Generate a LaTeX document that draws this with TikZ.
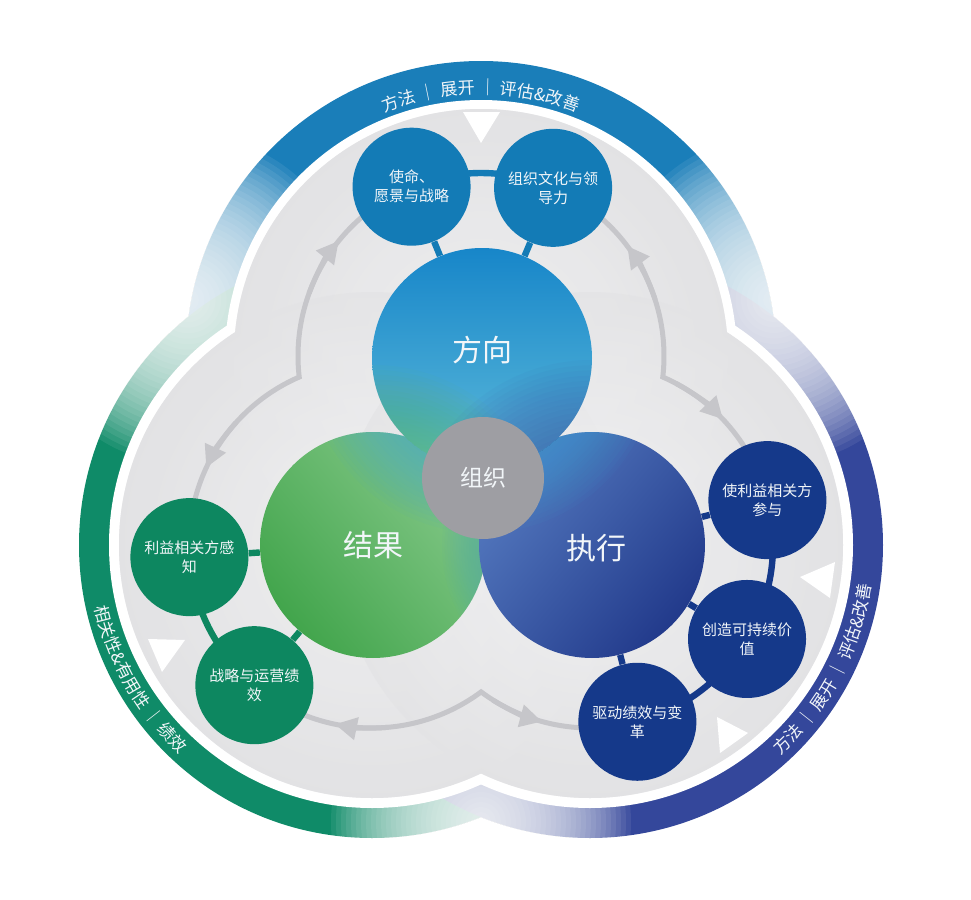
\documentclass[tikz,border=0pt]{standalone}
\usepackage{fontspec}
\setmainfont{Noto Sans CJK SC}
\usetikzlibrary{calc,decorations.text,arrows.meta}

\definecolor{bandT}{HTML}{1A7EB9}
\definecolor{bandL}{HTML}{0F8B68}
\definecolor{bandR}{HTML}{34479B}
\definecolor{smallT}{HTML}{137BB6}
\definecolor{smallL}{HTML}{0D8760}
\definecolor{smallR}{HTML}{15398A}
\definecolor{dirTop}{HTML}{1786C9}
\definecolor{dirBot}{HTML}{5DBADA}
\definecolor{resDark}{HTML}{42A54C}
\definecolor{resLight}{HTML}{86C98A}
\definecolor{exeDark}{HTML}{223A8B}
\definecolor{exeLight}{HTML}{5479BF}
\definecolor{tintG}{HTML}{5DB865}
\definecolor{tintN}{HTML}{3C55A6}
\definecolor{tintB}{HTML}{3FA6D8}
\definecolor{tintTeal}{HTML}{4FA9B0}
\definecolor{orgC}{HTML}{9E9EA3}
\definecolor{arrowC}{HTML}{C6C6CA}
\definecolor{txtC}{HTML}{F2F6F9}
\definecolor{lobeA}{HTML}{F5F5F6}
\definecolor{lobeB}{HTML}{E1E1E3}
\definecolor{lobeC}{HTML}{C4C4C7}
\definecolor{lobeD}{HTML}{97979C}

\pgfdeclareradialshading{lobeshade}{\pgfpointorigin}{color(0bp)=(lobeA); color(28bp)=(lobeB); color(42bp)=(lobeC); color(50bp)=(lobeD)}

\newcommand\ringfont{\fontsize{8.5}{10}\selectfont}
% soft white glow made of stacked translucent discs
\newcommand\glowat[2]{%
  \foreach \gr in {1,...,30}{\fill[white, opacity=0.075] (#1) circle[radius={\gr/30*#2}];}}
% soft colour tint: discs from radius #3 to #4 round point #2
\newcommand\tintat[4]{%
  \foreach \gr in {0,...,14}{\fill[#1, opacity=0.05] (#2) circle[radius={#3+\gr/14*(#4-#3)}];}}

\begin{document}
\begin{tikzpicture}[x=0.5pt,y=-0.5pt,
  grayline/.style={draw=arrowC, line width=2.5pt},
  grayhead/.style={draw=arrowC, line width=2.5pt, -{Triangle[length=11pt,width=11pt]}},
  linkT/.style={draw=smallT, line width=3.2pt},
  linkL/.style={draw=smallL, line width=3.2pt},
  linkR/.style={draw=smallR, line width=3.2pt},
  smallbox/.style={circle, minimum size=59pt, inner sep=0pt, text=txtC, align=center, font=\fontsize{7.5}{9.5}\selectfont},
  bigbox/.style={circle, inner sep=0pt},
  bigtext/.style={text=txtC, font=\fontsize{15}{18}\selectfont, inner sep=0pt},
  tri/.style={fill=white}
]
\useasboundingbox (0,0) rectangle (971,900);
\fill[white] (0,0) rectangle (971,900);

\coordinate (T) at (481,356);
\coordinate (L) at (372,545);
\coordinate (R) at (590,545);

% coloured bands
\fill[bandT] (T) circle[radius=295];
\fill[bandL] (L) circle[radius=293];
\fill[bandR] (R) circle[radius=293];
\coordinate (g1) at (188,300);
\coordinate (g2) at (774,300);
\coordinate (g3) at (481,822);
\glowat{g1}{165}
\glowat{g2}{165}
\glowat{g3}{150}

% white gap and grey lobes
\fill[white] (T) circle[radius=256] (L) circle[radius=263] (R) circle[radius=263];
\fill[lobeB] (T) circle[radius=247] (L) circle[radius=253] (R) circle[radius=253];
\shade[shading=lobeshade, opacity=0.7] (T) circle[radius=247];
\shade[shading=lobeshade, opacity=0.7] (L) circle[radius=253];
\shade[shading=lobeshade, opacity=0.7] (R) circle[radius=253];

% grey cycle arrows
\draw[grayline] ($(T)+(247.7:183)$) arc[start angle=247.7,end angle=173.4,radius=183] arc[start angle=246.5,end angle=176.2,radius=183];
\draw[grayline] ($(T)+(293.2:183)$) arc[start angle=293.2,end angle=366.6,radius=183] arc[start angle=293.5,end angle=345.8,radius=183];
\draw[grayline] ($(L)+(130:183)$) arc[start angle=130,end angle=53.4,radius=183] arc[start angle=126.6,end angle=75,radius=183];
\draw[grayhead] ($(T)+(200:183)$) arc[start angle=200,end angle=219,radius=183];
\draw[grayhead] ($(L)+(222:183)$) arc[start angle=222,end angle=205,radius=183];
\draw[grayhead] ($(T)+(342:183)$) arc[start angle=342,end angle=323,radius=183];
\draw[grayhead] ($(R)+(298:183)$) arc[start angle=298,end angle=316.6,radius=183];
\draw[grayhead] ($(L)+(85:183)$) arc[start angle=85,end angle=101.7,radius=183];
\draw[grayhead] ($(R)+(122:183)$) arc[start angle=122,end angle=105.2,radius=183];

% white triangles
\fill[tri] (463,112) -- (500,112) -- (481,143) -- cycle;
\fill[tri] (148,639) -- (185,640) -- (162,672) -- cycle;
\fill[tri] (800,577) -- (835,562) -- (830,598) -- cycle;
\fill[tri] (717,717) -- (748,733) -- (720,753) -- cycle;

% small circle centres
\coordinate (c1) at ($(T)+(247.7:183)$);
\coordinate (c2) at ($(T)+(293.2:183)$);
\coordinate (c3) at ($(L)+(176.2:183)$);
\coordinate (c4) at ($(L)+(130:183)$);
\coordinate (c5) at ($(R)+(-14.2:183)$);
\coordinate (c6) at ($(R)+(30.9:183)$);
\coordinate (c7) at ($(R)+(75:183)$);

% chain links
\draw[linkT] (c1) arc[start angle=247.7,end angle=293.2,radius=183];
\draw[linkL] (c4) arc[start angle=130,end angle=176.2,radius=183];
\draw[linkR] (c5) arc[start angle=-14.2,end angle=75,radius=183];

% small circles
\node[smallbox, fill=smallT] (s1) at (c1) {使命、\\愿景与战略};
\node[smallbox, fill=smallT] (s2) at (c2) {组织文化与领\\导力};
\node[smallbox, fill=smallL] (s3) at (c3) {利益相关方感\\知};
\node[smallbox, fill=smallL] (s4) at (c4) {战略与运营绩\\效};
\node[smallbox, fill=smallR] (s5) at (c5) {使利益相关方\\参与};
\node[smallbox, fill=smallR] (s6) at (c6) {创造可持续价\\值};
\node[smallbox, fill=smallR] (s7) at (c7) {驱动绩效与变\\革};

% big circles with soft blending towards each other
\coordinate (cdir) at (482,358);
\coordinate (cres) at (373,545);
\coordinate (cexe) at (592,545);
\begin{scope}
\clip (cres) circle[radius=113];
\shade[top color=resLight, bottom color=resDark, shading angle=-50] (cres) circle[radius=113];
\tintat{tintB}{cdir}{112}{175}
\tintat{tintTeal}{cexe}{112}{150}
\end{scope}
\begin{scope}
\clip (cexe) circle[radius=113];
\shade[top color=exeLight, bottom color=exeDark, shading angle=50] (cexe) circle[radius=113];
\tintat{tintB}{cdir}{112}{175}
\end{scope}
\begin{scope}
\clip (cdir) circle[radius=110];
\shade[top color=dirTop, bottom color=dirBot] (cdir) circle[radius=110];
\tintat{tintG}{cres}{112}{180}
\tintat{tintN}{cexe}{112}{185}
\end{scope}

\node[bigbox, minimum size=110pt, label={[bigtext, yshift=4pt]center:方向}] (dir) at (cdir) {};
\node[bigbox, minimum size=113pt, label={[bigtext]center:结果}] (res) at (cres) {};
\node[bigbox, minimum size=113pt, label={[bigtext, xshift=2pt, yshift=-1.5pt]center:执行}] (exe) at (cexe) {};

% spokes
\draw[linkT] (dir) -- (s1);
\draw[linkT] (dir) -- (s2);
\draw[linkL] (res) -- (s3);
\draw[linkL] (res) -- (s4);
\draw[linkR] (exe) -- (s5);
\draw[linkR] (exe) -- (s6);
\draw[linkR] (exe) -- (s7);

\node[circle, fill=orgC, minimum size=61pt, inner sep=0pt, text=txtC, font=\fontsize{11.5}{14}\selectfont] (org) at (483,478) {组织};

% ring texts
\path[decorate, decoration={text along path, text align=center, text={|\ringfont\color{txtC}|方法 ｜ 展开 ｜ 评估{\&}改善}}] ($(T)+(240:262)$) arc[start angle=240,end angle=300,radius=262];
\path[decorate, decoration={text along path, text align=center, text={|\ringfont\color{txtC}|相关性{\&}有用性 ｜ 绩效}}] ($(L)+(192:284)$) arc[start angle=192,end angle=108,radius=284];
\path[decorate, decoration={text along path, text align=center, text={|\ringfont\color{txtC}|方法 ｜ 展开 ｜ 评估{\&}改善}}] ($(R)+(68:284)$) arc[start angle=68,end angle=-12,radius=284];
\end{tikzpicture}
\end{document}
